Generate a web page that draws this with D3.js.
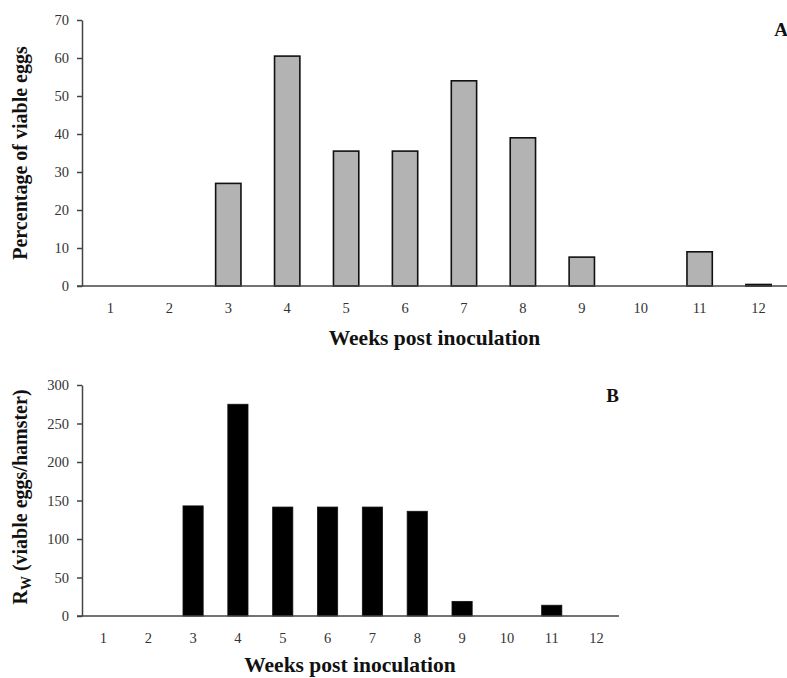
<!DOCTYPE html>
<html>
<head>
<meta charset="utf-8">
<script src="https://cdn.jsdelivr.net/npm/d3@7"></script>
<style>
  body { margin: 0; background: #fff; }
  svg { display: block; }
</style>
</head>
<body>
<svg id="chart" width="787" height="678"></svg>
<script>
const weeks = ["1","2","3","4","5","6","7","8","9","10","11","12"];
const viablePct = [0, 0, 27, 60.5, 35.5, 35.5, 54, 39, 7.6, 0, 9, 0.4];
const rwValues = [0, 0, 143, 275, 141.5, 141.5, 141.5, 136, 19, 0, 14, 0];
const ticksA = [0, 10, 20, 30, 40, 50, 60, 70];
const ticksB = [0, 50, 100, 150, 200, 250, 300];

const svg = d3.select("#chart");
const font = "'Liberation Serif', 'DejaVu Serif', serif";
const axisColor = "#444";
const tickTextColor = "#333";

function panel(cfg) {
  const x = d3.scaleBand().domain(weeks).range([cfg.x0, cfg.x1])
    .paddingInner(cfg.pad).paddingOuter(cfg.pad / 2);
  const y = d3.scaleLinear().domain([0, cfg.ymax]).range([cfg.yb, cfg.yt]);
  const g = svg.append("g");

  // bars
  g.selectAll("rect.bar").data(cfg.values.map((v, i) => ({ w: weeks[i], v })).filter(d => d.v > 0))
    .enter().append("rect")
    .attr("x", d => x(d.w))
    .attr("y", d => y(d.v))
    .attr("width", x.bandwidth())
    .attr("height", d => y(0) - y(d.v))
    .attr("fill", cfg.fill)
    .attr("stroke", "#111")
    .attr("stroke-width", cfg.stroke);

  // y axis
  const ya = g.append("g").attr("transform", `translate(${cfg.x0 + 1},0)`)
    .call(d3.axisLeft(y).tickValues(cfg.ticks).tickSize(5).tickPadding(8).tickSizeOuter(0));
  ya.select(".domain").attr("stroke", axisColor).attr("stroke-width", 1.5);
  ya.selectAll(".tick line").attr("stroke", axisColor).attr("stroke-width", 1.5);
  ya.selectAll(".tick text").attr("font-family", font).attr("font-size", 14.5).attr("fill", tickTextColor);

  // x axis
  const xa = g.append("g").attr("transform", `translate(0,${cfg.yb})`)
    .call(d3.axisBottom(x).tickSize(0).tickPadding(17).tickSizeOuter(0));
  xa.select(".domain").attr("stroke", axisColor).attr("stroke-width", 1.5)
    .attr("d", `M${cfg.x0 - 4},0H${cfg.x1}`);
  xa.selectAll(".tick text").attr("font-family", font).attr("font-size", 14.5).attr("fill", tickTextColor);

  // x title
  g.append("text").attr("x", (cfg.x0 + cfg.x1) / 2).attr("y", cfg.xTitleY)
    .attr("text-anchor", "middle").attr("font-family", font).attr("font-weight", "bold")
    .attr("font-size", 21.5).attr("fill", "#111").text("Weeks post inoculation");

  // y title
  const yt = g.append("text")
    .attr("transform", `translate(${cfg.yTitleX},${cfg.yTitleY}) rotate(-90)`)
    .attr("text-anchor", "middle").attr("font-family", font).attr("font-weight", "bold")
    .attr("font-size", 20).attr("fill", "#111");
  cfg.yTitle(yt);

  // panel letter
  g.append("text").attr("x", cfg.letterX).attr("y", cfg.letterY)
    .attr("text-anchor", "end").attr("font-family", font).attr("font-weight", "bold")
    .attr("font-size", 19).attr("fill", "#111").text(cfg.letter);
}

panel({
  x0: 81, x1: 788, yb: 286, yt: 20, ymax: 70, pad: 0.57,
  values: viablePct, ticks: ticksA, fill: "#b3b3b3", stroke: 1.6,
  xTitleY: 345, yTitleX: 27, yTitleY: 153,
  yTitle: t => t.text("Percentage of viable eggs"),
  letter: "A", letterX: 788, letterY: 36
});

panel({
  x0: 81, x1: 619, yb: 616, yt: 385, ymax: 300, pad: 0.55,
  values: rwValues, ticks: ticksB, fill: "#000", stroke: 0.8,
  xTitleY: 672, yTitleX: 27, yTitleY: 497,
  yTitle: t => {
    t.append("tspan").text("R");
    t.append("tspan").attr("font-size", 14).attr("dy", 4).text("W");
    t.append("tspan").attr("dy", -4).text(" (viable eggs/hamster)");
  },
  letter: "B", letterX: 619, letterY: 402
});
</script>
</body>
</html>
